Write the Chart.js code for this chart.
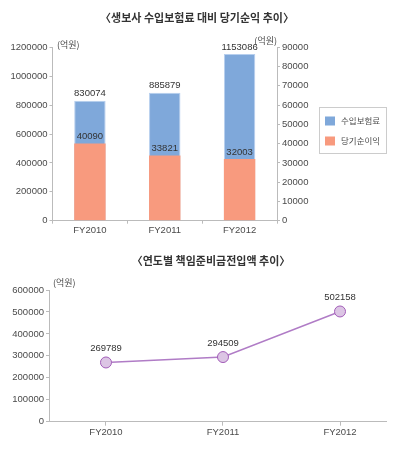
<!DOCTYPE html>
<html>
<head>
<meta charset="utf-8">
<script src="https://cdn.jsdelivr.net/npm/chart.js@4/dist/chart.umd.min.js"></script>
<style>
  body { margin: 0; background: #fff; }
  canvas { display: block; }
</style>
</head>
<body>
<canvas id="premiumChart" width="400" height="240"></canvas>
<canvas id="reserveChart" width="400" height="210"></canvas>
<script>
// data
var categories = ['FY2010', 'FY2011', 'FY2012'];
var premium = [830074, 885879, 1153086];      // 수입보험료
var netIncome = [40090, 33821, 32003];         // 당기순이익
var reserve = [269789, 294509, 502158];        // 책임준비금전입액

var numFont = '"Liberation Sans", sans-serif';
var krFont = '"Noto Sans CJK KR", sans-serif';
var axisColor = '#bbbbbb';
var textColor = '#4a4a4a';

Chart.defaults.font.family = numFont;
Chart.defaults.font.size = 9.5;
Chart.defaults.color = textColor;

function plain(v) { return String(v); }

// value labels above bars / points
var valueLabels = {
    id: 'valueLabels',
    afterDatasetsDraw: function (chart, args, opts) {
        var ctx = chart.ctx;
        ctx.save();
        ctx.font = '9.5px ' + numFont;
        ctx.fillStyle = '#333';
        ctx.textAlign = 'center';
        ctx.textBaseline = 'middle';
        chart.data.datasets.forEach(function (ds, di) {
            chart.getDatasetMeta(di).data.forEach(function (el, i) {
                var v = ds.data[i];
                if (typeof v === 'object') v = v.y;
                ctx.fillText(String(v), el.x, el.y - opts.offset);
            });
        });
        ctx.restore();
    }
};

// title, "(억원)" unit notes and the boxed legend
var extras = {
    id: 'extras',
    afterDraw: function (chart, args, opts) {
        var ctx = chart.ctx;
        ctx.save();
        ctx.textBaseline = 'middle';
        ctx.textAlign = 'center';
        ctx.fillStyle = '#333';
        ctx.font = 'bold 11px ' + krFont;
        ctx.fillText(opts.title, opts.titleX, opts.titleY);

        ctx.font = '9px ' + krFont;
        ctx.fillStyle = textColor;
        (opts.units || []).forEach(function (u) {
            ctx.textAlign = u.align;
            ctx.fillText('(억원)', u.x, u.y);
        });
        if (opts.legend) {
            var lg = opts.legend;
            ctx.strokeStyle = '#cccccc';
            ctx.lineWidth = 1;
            ctx.strokeRect(lg.x + 0.5, lg.y + 0.5, lg.w, lg.h);
            ctx.font = '8.5px ' + krFont;
            ctx.textAlign = 'left';
            chart.data.datasets.forEach(function (ds, i) {
                var cy = lg.y + 14 + i * 20;
                ctx.fillStyle = ds.backgroundColor;
                ctx.fillRect(lg.x + 6, cy - 4.5, 10, 9);
                ctx.fillStyle = textColor;
                ctx.fillText(ds.label, lg.x + 22, cy);
            });
        }
        ctx.restore();
    }
};

var premiumCtx = document.getElementById('premiumChart').getContext('2d');
var premiumChart = new Chart(premiumCtx, {
    type: 'bar',
    data: {
        labels: categories,
        datasets: [
            {
                label: '수입보험료',
                data: premium,
                yAxisID: 'yL',
                backgroundColor: '#7fa8da',
                borderColor: '#b7cfee',
                borderWidth: 1,
                grouped: false,
                order: 1,
                categoryPercentage: 1,
                barPercentage: 0.42
            },
            {
                label: '당기순이익',
                data: netIncome,
                yAxisID: 'yR',
                backgroundColor: '#f89a7e',
                borderWidth: 0,
                grouped: false,
                order: 0,
                categoryPercentage: 1,
                barPercentage: 0.42
            }
        ]
    },
    options: {
        responsive: false,
        animation: false,
        layout: { padding: { top: 47.3, left: 0, right: 83, bottom: 0 } },
        scales: {
            x: {
                grid: { offset: true, drawOnChartArea: false, tickLength: 3, color: axisColor },
                border: { color: axisColor },
                ticks: { padding: 1, color: textColor },
                afterFit: function (s) { s.height = 19.3; }
            },
            yL: {
                position: 'left',
                min: 0,
                max: 1200000,
                ticks: { stepSize: 200000, padding: 2, color: textColor, callback: plain },
                grid: { drawOnChartArea: false, tickLength: 3, color: axisColor },
                border: { color: axisColor },
                afterFit: function (s) { s.width = 52.5; }
            },
            yR: {
                position: 'right',
                min: 0,
                max: 90000,
                ticks: { stepSize: 10000, padding: 2, color: textColor, callback: plain },
                grid: { drawOnChartArea: false, tickLength: 3, color: axisColor },
                border: { color: axisColor },
                afterFit: function (s) { s.width = 40; }
            }
        },
        plugins: {
            title: { display: false },
            legend: { display: false },
            tooltip: { enabled: false },
            valueLabels: { offset: 7 },
            extras: {
                title: '〈생보사 수입보험료 대비 당기순익 추이〉',
                titleX: 197,
                titleY: 18,
                units: [
                    { x: 57, y: 44.5, align: 'left' },
                    { x: 277, y: 41, align: 'right' }
                ],
                legend: { x: 319, y: 107, w: 67, h: 46 }
            }
        }
    },
    plugins: [valueLabels, extras]
});

var reserveCtx = document.getElementById('reserveChart').getContext('2d');
var reserveChart = new Chart(reserveCtx, {
    type: 'line',
    data: {
        datasets: [{
            label: '책임준비금전입액',
            data: reserve.map(function (v, i) { return { x: i, y: v }; }),
            borderColor: '#b07cc6',
            borderWidth: 1.5,
            pointRadius: 5.5,
            pointBackgroundColor: '#dcc5e4',
            pointBorderColor: '#a25db8',
            pointBorderWidth: 1
        }]
    },
    options: {
        responsive: false,
        animation: false,
        layout: { padding: { top: 50, left: 0, right: 14, bottom: 0 } },
        scales: {
            x: {
                type: 'linear',
                min: -0.487,
                max: 2.393,
                afterBuildTicks: function (s) {
                    s.ticks = s.ticks.filter(function (t) { return Number.isInteger(t.value); });
                },
                ticks: {
                    stepSize: 1,
                    padding: 1,
                    color: textColor,
                    callback: function (v) { return categories[v]; }
                },
                grid: { drawOnChartArea: false, tickLength: 4, color: axisColor },
                border: { color: axisColor },
                afterFit: function (s) { s.height = 28.3; }
            },
            y: {
                min: 0,
                max: 600000,
                ticks: { stepSize: 100000, padding: 2, color: textColor, callback: plain },
                grid: { drawOnChartArea: false, tickLength: 3, color: axisColor },
                border: { color: axisColor },
                afterFit: function (s) { s.width = 49; }
            }
        },
        plugins: {
            title: { display: false },
            legend: { display: false },
            tooltip: { enabled: false },
            valueLabels: { offset: 14 },
            extras: {
                title: '〈연도별 책임준비금전입액 추이〉',
                titleX: 211,
                titleY: 21,
                units: [{ x: 53, y: 43, align: 'left' }]
            }
        }
    },
    plugins: [valueLabels, extras]
});
</script>
</body>
</html>
